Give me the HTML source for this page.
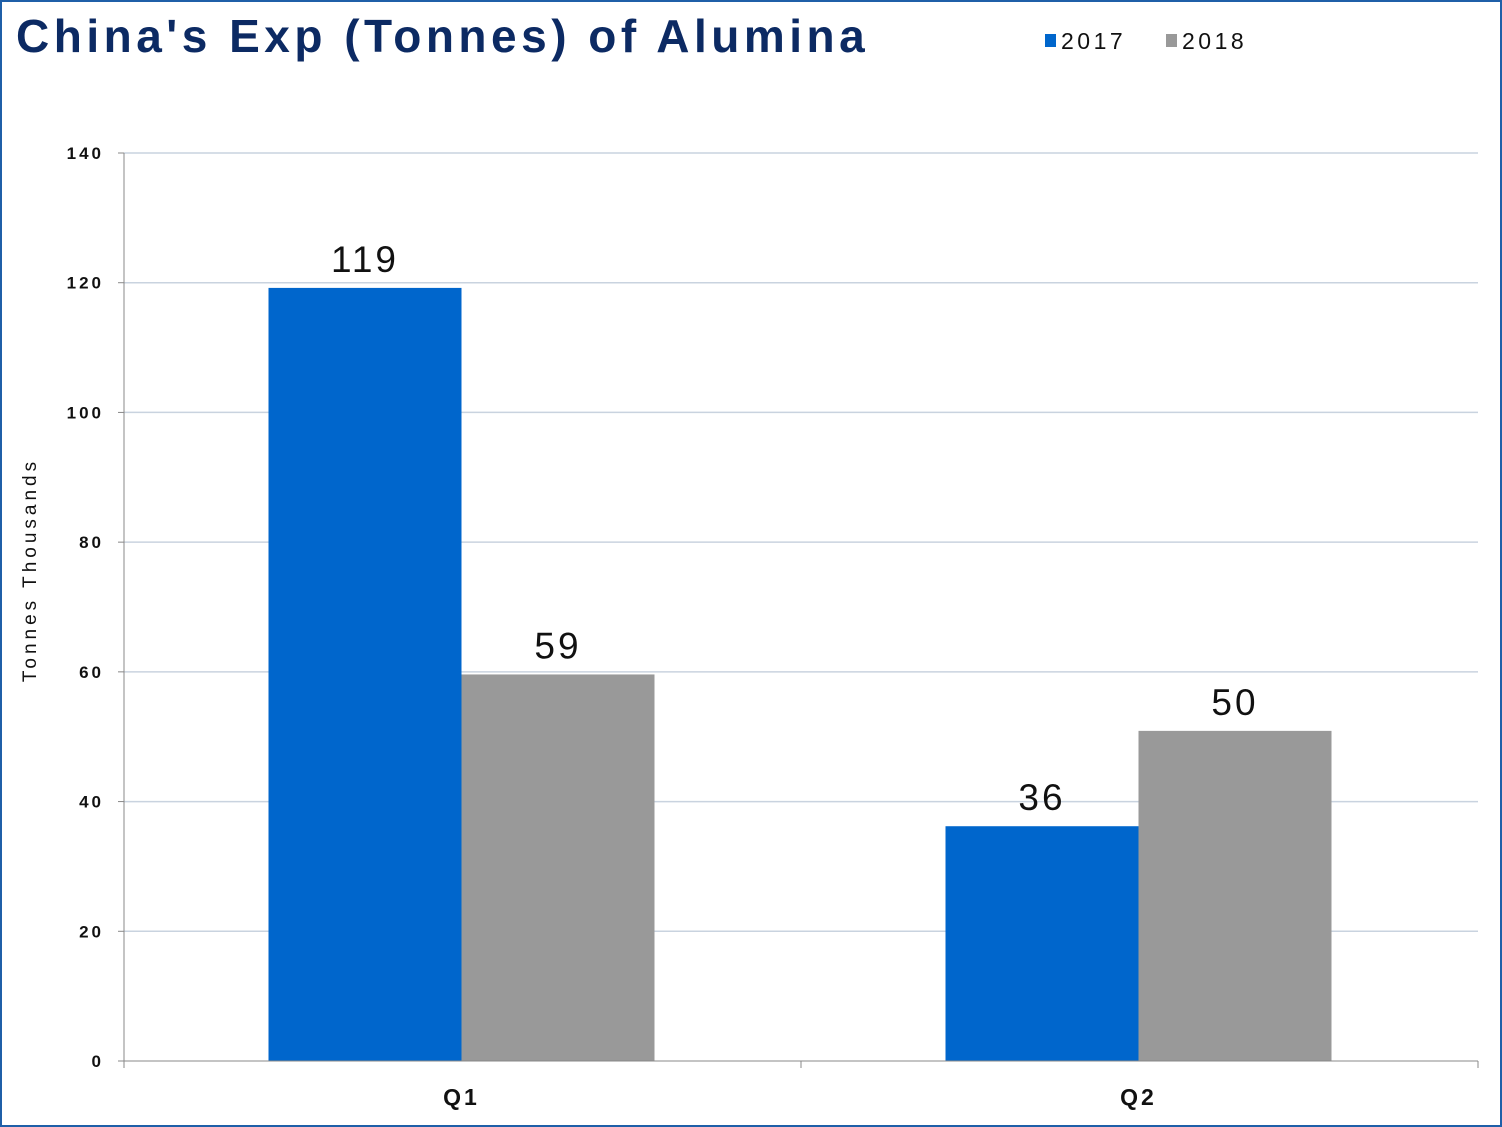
<!DOCTYPE html>
<html><head><meta charset="utf-8"><style>
html,body{margin:0;padding:0;background:#fff;}
#wrap{position:relative;width:1502px;height:1127px;box-sizing:border-box;border:2px solid #1f5fa8;overflow:hidden;}
svg text{font-family:"Liberation Sans",sans-serif;}
</style></head><body>
<div id="wrap">
<svg id="chart" width="1502" height="1127" style="position:absolute;left:-2px;top:-2px">
<text x="16" y="52" font-size="46" font-weight="bold" fill="#0c2a63" letter-spacing="4.5">China's Exp (Tonnes) of Alumina</text>
<g>
<rect x="1045" y="34" width="11" height="13" fill="#0066cc"/>
<text x="1061" y="49" font-size="23" letter-spacing="3.5" fill="#111">2017</text>
<rect x="1166" y="34" width="11" height="13" fill="#999999"/>
<text x="1182" y="49" font-size="23" letter-spacing="3.5" fill="#111">2018</text>
</g>
<text transform="translate(36,570) rotate(-90)" text-anchor="middle" font-size="19" letter-spacing="4" fill="#111">Tonnes Thousands</text>
<g id="grid"></g><g id="bars"></g><g id="axes"></g>
</svg>
</div>
<script>
const categories = ["Q1","Q2"];
const series2017 = [119.2, 36.2];
const series2018 = [59.6, 50.9];
const labels2017 = ["119","36"];
const labels2018 = ["59","50"];
const yTicks = [0,20,40,60,80,100,120,140];

const NS="http://www.w3.org/2000/svg";
const X0=124, X1=1478, Y0=1061, Y1=153, YMAX=140;
const y = v => Y0 - v/YMAX*(Y0-Y1);
const catW=(X1-X0)/categories.length;
const barW=193;
function mk(tag, attrs, parent){const e=document.createElementNS(NS,tag);for(const k in attrs)e.setAttribute(k,attrs[k]);parent.appendChild(e);return e;}
const grid=document.getElementById('grid'), bars=document.getElementById('bars'), axes=document.getElementById('axes');
yTicks.forEach(t=>{
  if(t>0){const l=mk('line',{x1:X0,x2:X1,y1:y(t),y2:y(t),stroke:'#c9d3df','stroke-width':1.5},grid);
  
  }
  const tk=mk('line',{x1:X0-6,x2:X0,y1:y(t),y2:y(t),stroke:'#888'},axes);
  
  
  const tx=mk('text',{x:104,y:y(t)+6,'text-anchor':'end','font-size':17,'font-weight':'bold','letter-spacing':3,fill:'#111'},axes);
  tx.textContent=t;
  
  
});
const ya=mk('line',{x1:X0,x2:X0,y1:Y1,y2:Y0+6,stroke:'#888'},axes);


const xa=mk('line',{x1:X0,x2:X1,y1:Y0,y2:Y0,stroke:'#888'},axes);


for(let i=0;i<=categories.length;i++){
  const tk=mk('line',{x1:X0+i*catW,x2:X0+i*catW,y1:Y0,y2:Y0+7,stroke:'#888'},axes);
  
  
}
categories.forEach((c,i)=>{
  const cx=X0+catW*(i+0.5)-1;
  const lab=mk('text',{x:cx,y:1105,'text-anchor':'middle','font-size':23,'font-weight':'bold','letter-spacing':3,fill:'#111'},axes);
  lab.textContent=c;
  
  
  [[series2017,labels2017,'#0066cc','2017',-1],[series2018,labels2018,'#999999','2018',0]].forEach(([s,lb,col,yr,off])=>{
    const bx=cx+off*barW+(off===0?0:0);
    const r=mk('rect',{x:bx,y:y(s[i]),width:barW,height:Y0-y(s[i]),fill:col},bars);
    
    
    const t=mk('text',{x:bx+barW/2,y:y(s[i])-16,'text-anchor':'middle','font-size':37,'letter-spacing':3,fill:'#111'},bars);
    t.textContent=lb[i];
    
    
  });
});
</script>
</body></html>
